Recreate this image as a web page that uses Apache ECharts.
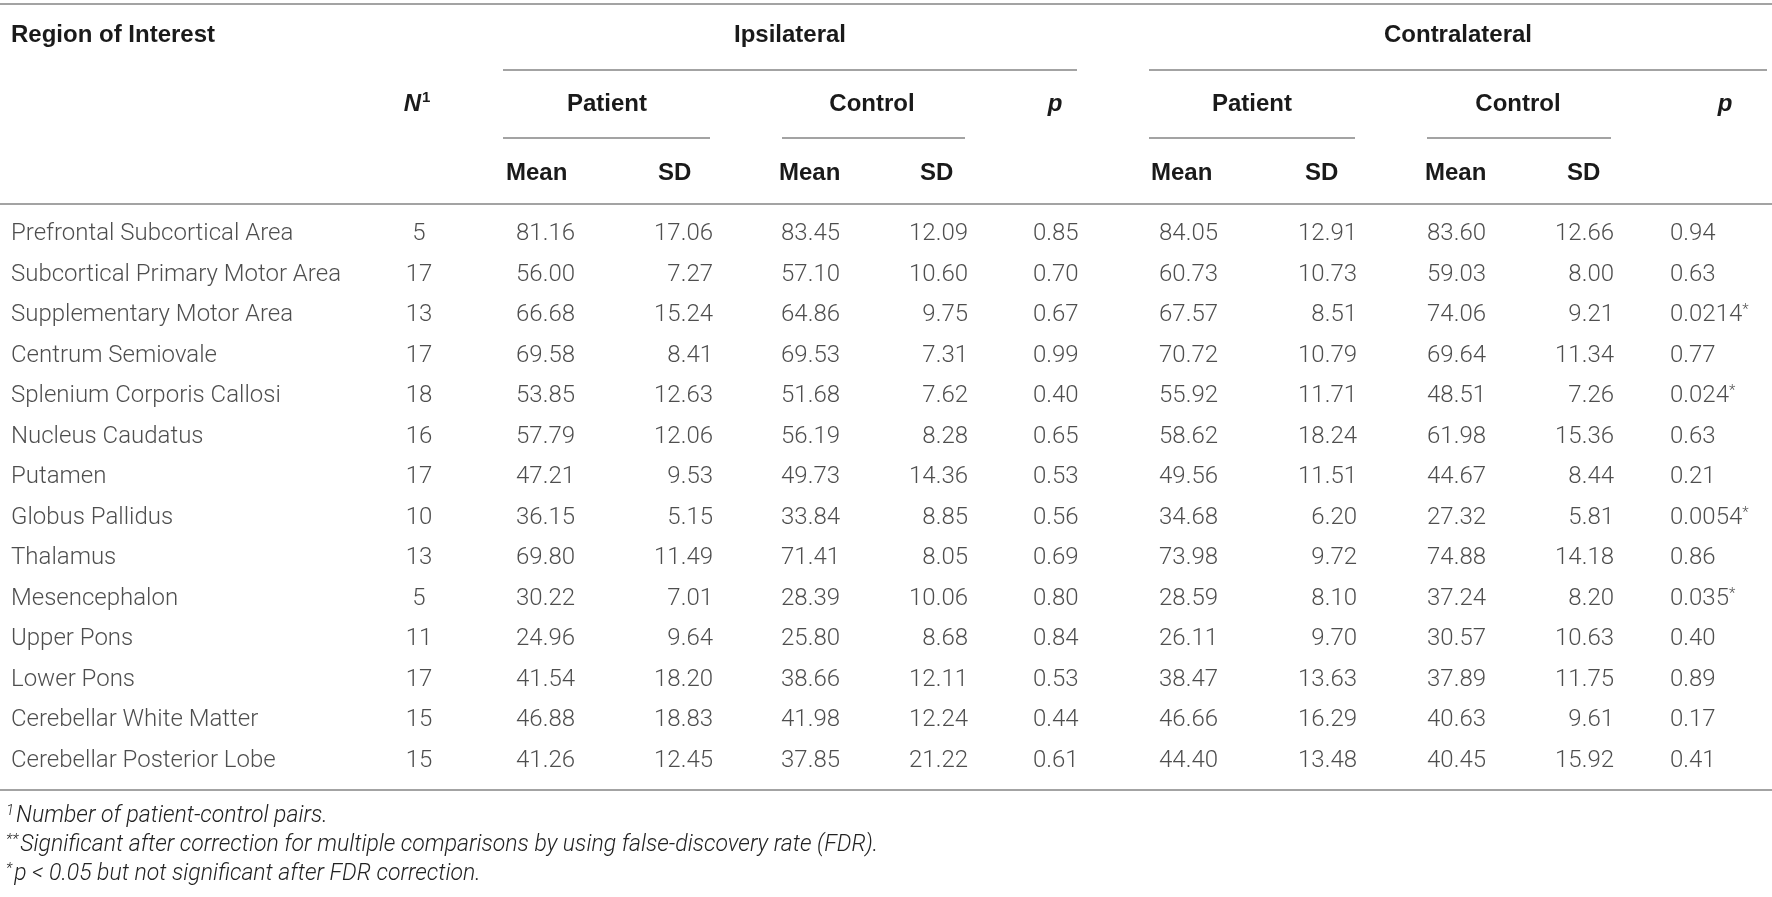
<!DOCTYPE html>
<html>
<head>
<meta charset="utf-8">
<script src="https://cdn.jsdelivr.net/npm/echarts@6/dist/echarts.min.js"></script>
<style>
html,body{margin:0;padding:0;background:#fff;}
#chart{width:1772px;height:897px;}
</style>
</head>
<body>
<div id="chart"></div>
<script>
// ---------- DATA ----------
const regions = ['Prefrontal Subcortical Area','Subcortical Primary Motor Area','Supplementary Motor Area','Centrum Semiovale','Splenium Corporis Callosi','Nucleus Caudatus','Putamen','Globus Pallidus','Thalamus','Mesencephalon','Upper Pons','Lower Pons','Cerebellar White Matter','Cerebellar Posterior Lobe'];
const nPairs = [5,17,13,17,18,16,17,10,13,5,11,17,15,15];
const ipsiPatientMean = [81.16,56.00,66.68,69.58,53.85,57.79,47.21,36.15,69.80,30.22,24.96,41.54,46.88,41.26];
const ipsiPatientSD = [17.06,7.27,15.24,8.41,12.63,12.06,9.53,5.15,11.49,7.01,9.64,18.20,18.83,12.45];
const ipsiControlMean = [83.45,57.10,64.86,69.53,51.68,56.19,49.73,33.84,71.41,28.39,25.80,38.66,41.98,37.85];
const ipsiControlSD = [12.09,10.60,9.75,7.31,7.62,8.28,14.36,8.85,8.05,10.06,8.68,12.11,12.24,21.22];
const ipsiP = ['0.85','0.70','0.67','0.99','0.40','0.65','0.53','0.56','0.69','0.80','0.84','0.53','0.44','0.61'];
const contraPatientMean = [84.05,60.73,67.57,70.72,55.92,58.62,49.56,34.68,73.98,28.59,26.11,38.47,46.66,44.40];
const contraPatientSD = [12.91,10.73,8.51,10.79,11.71,18.24,11.51,6.20,9.72,8.10,9.70,13.63,16.29,13.48];
const contraControlMean = [83.60,59.03,74.06,69.64,48.51,61.98,44.67,27.32,74.88,37.24,30.57,37.89,40.63,40.45];
const contraControlSD = [12.66,8.00,9.21,11.34,7.26,15.36,8.44,5.81,14.18,8.20,10.63,11.75,9.61,15.92];
const contraP = ['0.94','0.63','0.0214*','0.77','0.024*','0.63','0.21','0.0054*','0.86','0.035*','0.40','0.89','0.17','0.41'];

const sideHeaders = ['Ipsilateral','Contralateral'];
const groupHeaders = ['Patient','Control'];
const statHeaders = ['Mean','SD'];
const footnotes = [
  ['1','Number of patient-control pairs.'],
  ['**','Significant after correction for multiple comparisons by using false-discovery rate (FDR).'],
  ['*','p < 0.05 but not significant after FDR correction.']
];

// ---------- LAYOUT / STYLE ----------
const W = 1772, H = 897;
const BODY_FONT = 'Roboto, "Liberation Sans", Arial, sans-serif';
const HEAD_FONT = '"Liberation Sans", Arial, Helvetica, sans-serif';
const TXT = '#222222';
const RULE = '#a3a3a3';
const FS = 24;

const f2 = v => v.toFixed(2);
const pfmt = v => v.endsWith('*') ? v.slice(0,-1) + '{s|*}' : v;

const columns = [
  {values: regions, x: 11, align: 'left', fmt: v => v},
  {values: nPairs, x: 419, align: 'center', fmt: v => String(v)},
  {values: ipsiPatientMean, x: 575, align: 'right', fmt: f2},
  {values: ipsiPatientSD, x: 713, align: 'right', fmt: f2},
  {values: ipsiControlMean, x: 840, align: 'right', fmt: f2},
  {values: ipsiControlSD, x: 968, align: 'right', fmt: f2},
  {values: ipsiP, x: 1033, align: 'left', fmt: pfmt},
  {values: contraPatientMean, x: 1218, align: 'right', fmt: f2},
  {values: contraPatientSD, x: 1357, align: 'right', fmt: f2},
  {values: contraControlMean, x: 1486, align: 'right', fmt: f2},
  {values: contraControlSD, x: 1614, align: 'right', fmt: f2},
  {values: contraP, x: 1670, align: 'left', fmt: pfmt}
];

const series = columns.map(col => ({
  type: 'scatter',
  symbolSize: 0,
  silent: true,
  animation: false,
  data: col.values.map((v, i) => ({value: [col.x, regions[i]], raw: v})),
  label: {
    show: true,
    position: 'inside',
    align: col.align,
    verticalAlign: 'middle',
    color: TXT,
    fontFamily: BODY_FONT,
    fontWeight: 300,
    fontSize: FS,
    formatter: p => col.fmt(p.data.raw),
    rich: {s: {fontSize: 15, fontFamily: BODY_FONT, fontWeight: 300, color: TXT, verticalAlign: 'top', padding: [0,0,10,0]}}
  }
}));

// header graphics
const graphics = [];
function hline(x1, x2, y) {
  graphics.push({type: 'line', silent: true, shape: {x1, y1: y, x2, y2: y}, style: {stroke: RULE, lineWidth: 2}});
}
function htext(text, x, y, align, extra) {
  graphics.push({type: 'text', silent: true, x, y, style: Object.assign({
    text, fill: '#1a1a1a', font: 'bold 24px ' + HEAD_FONT, align, verticalAlign: 'middle'
  }, extra || {})});
}
hline(0, W, 4);
hline(503, 1077, 70);
hline(1149, 1767, 70);
hline(503, 710, 138);
hline(782, 965, 138);
hline(1149, 1355, 138);
hline(1427, 1611, 138);
hline(0, W, 204);
hline(0, W, 790);

htext('Region of Interest', 11, 35, 'left');
htext(sideHeaders[0], 790, 35, 'center');
htext(sideHeaders[1], 1458, 35, 'center');
graphics.push({type: 'text', silent: true, x: 417, y: 104, style: {
  text: '{n|N}{u|1}', align: 'center', verticalAlign: 'middle',
  rich: {
    n: {font: 'italic bold 24px ' + HEAD_FONT, fill: '#1a1a1a'},
    u: {font: 'bold 15px ' + HEAD_FONT, fill: '#1a1a1a', verticalAlign: 'top', padding: [0,0,12,1]}
  }
}});
htext(groupHeaders[0], 607, 104, 'center');
htext(groupHeaders[1], 872, 104, 'center');
htext('p', 1055, 104, 'center', {font: 'italic bold 24px ' + HEAD_FONT});
htext(groupHeaders[0], 1252, 104, 'center');
htext(groupHeaders[1], 1518, 104, 'center');
htext('p', 1725, 104, 'center', {font: 'italic bold 24px ' + HEAD_FONT});
[[506,658,779,920],[1151,1305,1425,1567]].forEach(xs => {
  htext(statHeaders[0], xs[0], 173, 'left');
  htext(statHeaders[1], xs[1], 173, 'left');
  htext(statHeaders[0], xs[2], 173, 'left');
  htext(statHeaders[1], xs[3], 173, 'left');
});

const footY = [816, 845, 874];
footnotes.forEach((fn, i) => {
  graphics.push({type: 'text', silent: true, x: 6, y: footY[i], style: {
    text: '{s|' + fn[0] + '}{t|' + fn[1] + '}', align: 'left', verticalAlign: 'middle',
    rich: {
      s: {fontFamily: BODY_FONT, fontStyle: 'italic', fontWeight: 300, fontSize: 15, fill: TXT, verticalAlign: 'top', padding: [0,2,10,0]},
      t: {fontFamily: BODY_FONT, fontStyle: 'italic', fontWeight: 300, fontSize: 23, fill: TXT}
    }
  }});
});

const chart = echarts.init(document.getElementById('chart'), null, {renderer: 'canvas'});
chart.setOption({
  animation: false,
  backgroundColor: '#ffffff',
  grid: {left: 0, right: 0, top: 214, bottom: 116},
  xAxis: {type: 'value', min: 0, max: W, show: false},
  yAxis: {type: 'category', data: regions, inverse: true, show: false},
  graphic: graphics,
  series
});
</script>
</body>
</html>
